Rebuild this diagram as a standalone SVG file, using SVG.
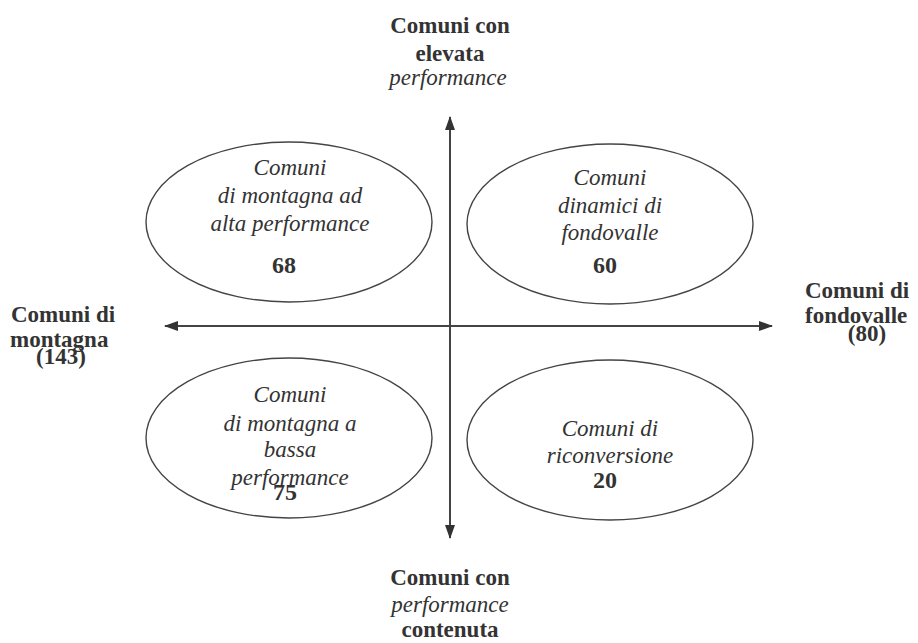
<svg xmlns="http://www.w3.org/2000/svg" width="918" height="643" viewBox="0 0 918 643">
<defs>
<style>
text{font-family:"Liberation Serif","Times New Roman",serif;fill:#333}
.b{font-weight:bold;font-size:23px}
.i{font-style:italic;font-size:23px}
.n{font-weight:bold;font-size:24px}
.m{text-anchor:middle}
ellipse{fill:none;stroke:#444;stroke-width:1.4}
.ax{stroke:#444;stroke-width:2;fill:none}
</style>
<marker id="ah" viewBox="0 0 14 10" refX="13" refY="5" markerWidth="14" markerHeight="10" markerUnits="userSpaceOnUse" orient="auto">
<path d="M0,0 L14,5 L0,10 Z" fill="#333"/>
</marker>
</defs>
<rect width="918" height="643" fill="#fff"/>
<g id="connectors">
<line class="ax" x1="450" y1="326" x2="450" y2="117" marker-end="url(#ah)"/>
<line class="ax" x1="450" y1="326" x2="450" y2="538" marker-end="url(#ah)"/>
<line class="ax" x1="450" y1="326" x2="165" y2="326" marker-end="url(#ah)"/>
<line class="ax" x1="450" y1="326" x2="772" y2="326" marker-end="url(#ah)"/>
</g>
<g id="label-top">
<text class="b m" x="450" y="33">Comuni con</text>
<text class="b m" x="450" y="61">elevata</text>
<text class="i m" x="448" y="85">performance</text>
</g>
<g id="label-bottom">
<text class="b m" x="450" y="585">Comuni con</text>
<text class="i m" x="450" y="612">performance</text>
<text class="b m" x="450" y="637">contenuta</text>
</g>
<g id="label-left">
<text class="b" x="11" y="322">Comuni di</text>
<text class="b" x="10" y="347">montagna</text>
<text class="b m" x="61" y="364">(143)</text>
</g>
<g id="label-right">
<text class="b" x="805" y="298">Comuni di</text>
<text class="b" x="805" y="323">fondovalle</text>
<text class="b m" x="867" y="341">(80)</text>
</g>
<g id="node-tl">
<ellipse cx="289" cy="222" rx="143" ry="80"/>
<text class="i m" x="290" y="175">Comuni</text>
<text class="i m" x="290" y="203">di montagna ad</text>
<text class="i m" x="290" y="231">alta performance</text>
<text class="n m" x="284" y="273">68</text>
</g>
<g id="node-tr">
<ellipse cx="610" cy="224" rx="143" ry="80"/>
<text class="i m" x="610" y="185">Comuni</text>
<text class="i m" x="610" y="213">dinamici di</text>
<text class="i m" x="610" y="240">fondovalle</text>
<text class="n m" x="605" y="273">60</text>
</g>
<g id="node-bl">
<ellipse cx="289" cy="438" rx="143" ry="80"/>
<text class="i m" x="290" y="402">Comuni</text>
<text class="i m" x="290" y="431">di montagna a</text>
<text class="i m" x="290" y="457">bassa</text>
<text class="i m" x="290" y="485">performance</text>
<text class="n m" x="285" y="500">75</text>
</g>
<g id="node-br">
<ellipse cx="610" cy="440" rx="143" ry="80"/>
<text class="i m" x="610" y="436">Comuni di</text>
<text class="i m" x="610" y="463">riconversione</text>
<text class="n m" x="605" y="488">20</text>
</g>
</svg>
